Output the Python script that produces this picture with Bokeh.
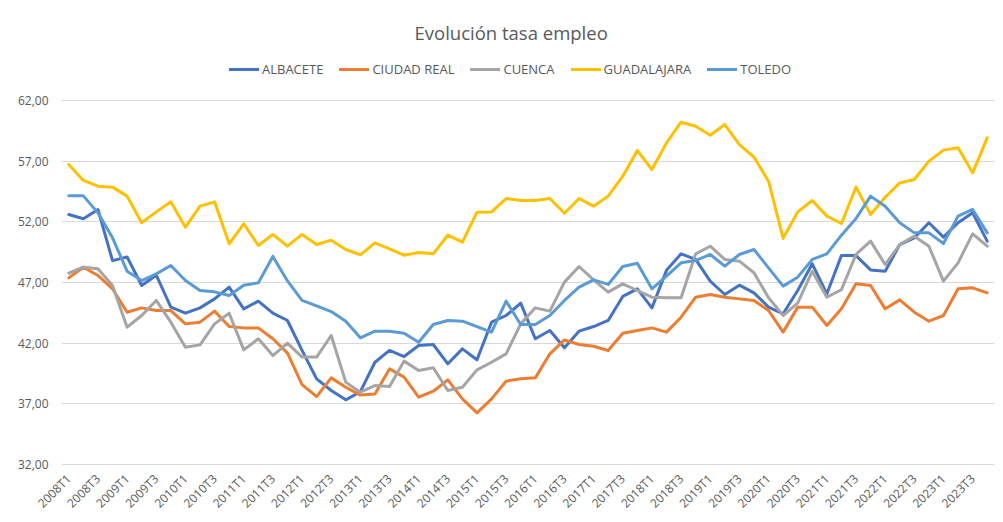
import math
from bokeh.plotting import figure
from bokeh.models import Range1d, FixedTicker, Legend, LegendItem, ColumnDataSource
from bokeh.embed import file_html
from bokeh.resources import INLINE

quarters = [f"{y}T{q}" for y in range(2008, 2024) for q in (1, 2, 3, 4)]

albacete = [52.60, 52.25, 53.02, 48.80, 49.10, 46.75, 47.60, 44.97, 44.47, 44.91,
            45.65, 46.62, 44.83, 45.46, 44.47, 43.87, 41.40, 39.06, 38.10, 37.33,
            38.00, 40.43, 41.40, 40.90, 41.81, 41.89, 40.30, 41.53, 40.63, 43.73,
            44.28, 45.30, 42.36, 43.04, 41.62, 42.99, 43.37, 43.87, 45.85, 46.48,
            44.91, 48.00, 49.36, 48.90, 47.11, 46.01, 46.78, 46.15, 44.97, 44.42,
            46.34, 48.54, 46.07, 49.22, 49.22, 48.04, 47.93, 50.13, 50.68, 51.92,
            50.74, 51.92, 52.74, 50.41]
ciudad_real = [47.38, 48.26, 47.58, 46.48, 44.55, 44.91, 44.69, 44.69, 43.59, 43.73,
               44.64, 43.37, 43.26, 43.26, 42.36, 41.18, 38.59, 37.60, 39.14, 38.37,
               37.72, 37.82, 39.88, 39.20, 37.55, 38.04, 38.98, 37.41, 36.26, 37.41,
               38.87, 39.06, 39.14, 41.12, 42.27, 41.89, 41.75, 41.40, 42.82, 43.04,
               43.26, 42.91, 44.14, 45.79, 46.01, 45.79, 45.65, 45.52, 44.69, 42.91,
               44.97, 44.97, 43.46, 44.83, 46.89, 46.75, 44.83, 45.57, 44.55, 43.81,
               44.28, 46.48, 46.56, 46.15]
cuenca = [47.77, 48.26, 48.13, 46.75, 43.32, 44.28, 45.52, 43.73, 41.67, 41.86,
          43.59, 44.47, 41.45, 42.36, 40.98, 42.00, 40.85, 40.85, 42.63, 38.79,
          37.96, 38.51, 38.43, 40.52, 39.75, 39.97, 38.10, 38.37, 39.80, 40.43,
          41.12, 43.59, 44.91, 44.64, 47.03, 48.32, 47.22, 46.21, 46.89, 46.34,
          45.79, 45.74, 45.74, 49.36, 49.99, 48.90, 48.76, 47.80, 45.74, 44.28,
          45.30, 47.93, 45.79, 46.40, 49.31, 50.41, 48.48, 50.13, 50.82, 49.99,
          47.11, 48.62, 51.01, 49.99]
guadalajara = [56.73, 55.41, 54.94, 54.86, 54.12, 51.92, 52.82, 53.65, 51.56, 53.29,
               53.65, 50.19, 51.84, 50.05, 50.96, 50.00, 50.96, 50.13, 50.49, 49.72,
               49.28, 50.27, 49.78, 49.25, 49.47, 49.36, 50.90, 50.32, 52.80, 52.82,
               53.92, 53.76, 53.76, 53.92, 52.71, 53.92, 53.29, 54.12, 55.76, 57.88,
               56.31, 58.51, 60.21, 59.88, 59.14, 60.02, 58.37, 57.33, 55.35, 50.63,
               52.82, 53.76, 52.47, 51.86, 54.86, 52.60, 54.03, 55.21, 55.49, 57.00,
               57.91, 58.10, 56.04, 58.92]
toledo = [54.14, 54.14, 52.74, 50.68, 47.93, 47.16, 47.71, 48.40, 47.16, 46.34,
          46.23, 45.93, 46.78, 46.97, 49.15, 47.13, 45.52, 45.08, 44.60, 43.81,
          42.44, 42.99, 42.99, 42.82, 42.08, 43.54, 43.87, 43.81, 43.37, 42.91,
          45.46, 43.54, 43.54, 44.28, 45.52, 46.62, 47.22, 46.84, 48.32, 48.59,
          46.48, 47.52, 48.62, 48.81, 49.31, 48.35, 49.31, 49.72, 48.21, 46.70,
          47.44, 48.90, 49.36, 50.90, 52.27, 54.12, 53.29, 51.92, 51.09, 51.09,
          50.21, 52.47, 53.02, 51.09]

series_names = ["ALBACETE", "CIUDAD REAL", "CUENCA", "GUADALAJARA", "TOLEDO"]
series_colors = ["#4472C4", "#ED7D31", "#A5A5A5", "#FFC000", "#5B9BD5"]
series_values = [albacete, ciudad_real, cuenca, guadalajara, toledo]

y_ticks = [32, 37, 42, 47, 52, 57, 62]
y_tick_labels = ["32,00", "37,00", "42,00", "47,00", "52,00", "57,00", "62,00"]

FONT = "Open Sans"
GREY_TEXT = "#595959"

xs = list(range(len(quarters)))

W, H = 1000, 520
FRAME_TOP, FRAME_BOTTOM, FRAME_LEFT, FRAME_RIGHT = 49, 474, 61, 994
GRID_TOP_PX, GRID_BOTTOM_PX = 100, 464          # where 62 and 32 sit on the page
PX_PER_UNIT = (GRID_BOTTOM_PX - GRID_TOP_PX) / (max(y_ticks) - min(y_ticks))
Y_TOP = max(y_ticks) + (GRID_TOP_PX - FRAME_TOP) / PX_PER_UNIT
Y_BOTTOM = min(y_ticks) - (FRAME_BOTTOM - GRID_BOTTOM_PX) / PX_PER_UNIT

p = figure(width=W, height=H, output_backend="svg", toolbar_location=None,
           x_range=Range1d(-0.5, len(quarters) - 0.5), y_range=Range1d(Y_BOTTOM, Y_TOP),
           min_border_left=FRAME_LEFT, min_border_right=W - FRAME_RIGHT,
           min_border_bottom=H - FRAME_BOTTOM, min_border_top=FRAME_TOP)
p.background_fill_color = "white"
p.border_fill_color = "white"
p.outline_line_color = None

p.title.text = "Evolución tasa empleo"
p.title.align = "left"
p.title.offset = 353
p.title.text_font = FONT
p.title.text_font_size = "18.5px"
p.title.text_font_style = "normal"
p.title.text_color = GREY_TEXT

items = []
for name, color, vals in zip(series_names, series_colors, series_values):
    src = ColumnDataSource(dict(x=xs, y=vals))
    r = p.line("x", "y", source=src, line_color=color, line_width=3, line_join="round", line_cap="round")
    items.append(LegendItem(label=name, renderers=[r]))

legend = Legend(items=items, orientation="horizontal",
                location=(233 - 4 - FRAME_LEFT, FRAME_BOTTOM - 78))
legend.label_text_font = FONT
legend.label_text_font_size = "13px"
legend.label_text_color = GREY_TEXT
legend.glyph_width = 30
legend.glyph_height = 16
legend.label_standoff = 3
legend.spacing = 16
legend.border_line_color = None
legend.background_fill_alpha = 0
legend.padding = 4
legend.margin = 0
p.add_layout(legend, "center")

p.xgrid.grid_line_color = None
p.ygrid.grid_line_color = "#D9D9D9"
p.ygrid.grid_line_width = 1
p.ygrid.ticker = FixedTicker(ticks=y_ticks)

p.yaxis.ticker = FixedTicker(ticks=y_ticks)
p.yaxis.major_label_overrides = dict(zip(y_ticks, y_tick_labels))
p.yaxis.axis_line_color = None
p.yaxis.major_tick_line_color = None
p.yaxis.minor_tick_line_color = None
p.yaxis.major_tick_out = 0
p.yaxis.major_tick_in = 0
p.yaxis.major_label_text_font = FONT
p.yaxis.major_label_text_font_size = "12px"
p.yaxis.major_label_text_color = GREY_TEXT
p.yaxis.major_label_standoff = 13

p.xaxis.ticker = FixedTicker(ticks=xs[::2])
p.xaxis.major_label_overrides = {i: quarters[i] for i in xs[::2]}
p.xaxis.axis_line_color = None
p.xaxis.major_tick_line_color = None
p.xaxis.minor_tick_line_color = None
p.xaxis.major_tick_out = 0
p.xaxis.major_tick_in = 0
p.xaxis.major_label_orientation = math.pi / 4
p.xaxis.major_label_text_font = FONT
p.xaxis.major_label_text_font_size = "12px"
p.xaxis.major_label_text_color = GREY_TEXT
p.xaxis.major_label_standoff = 2

open("out.html", "w").write(file_html(p, INLINE))
